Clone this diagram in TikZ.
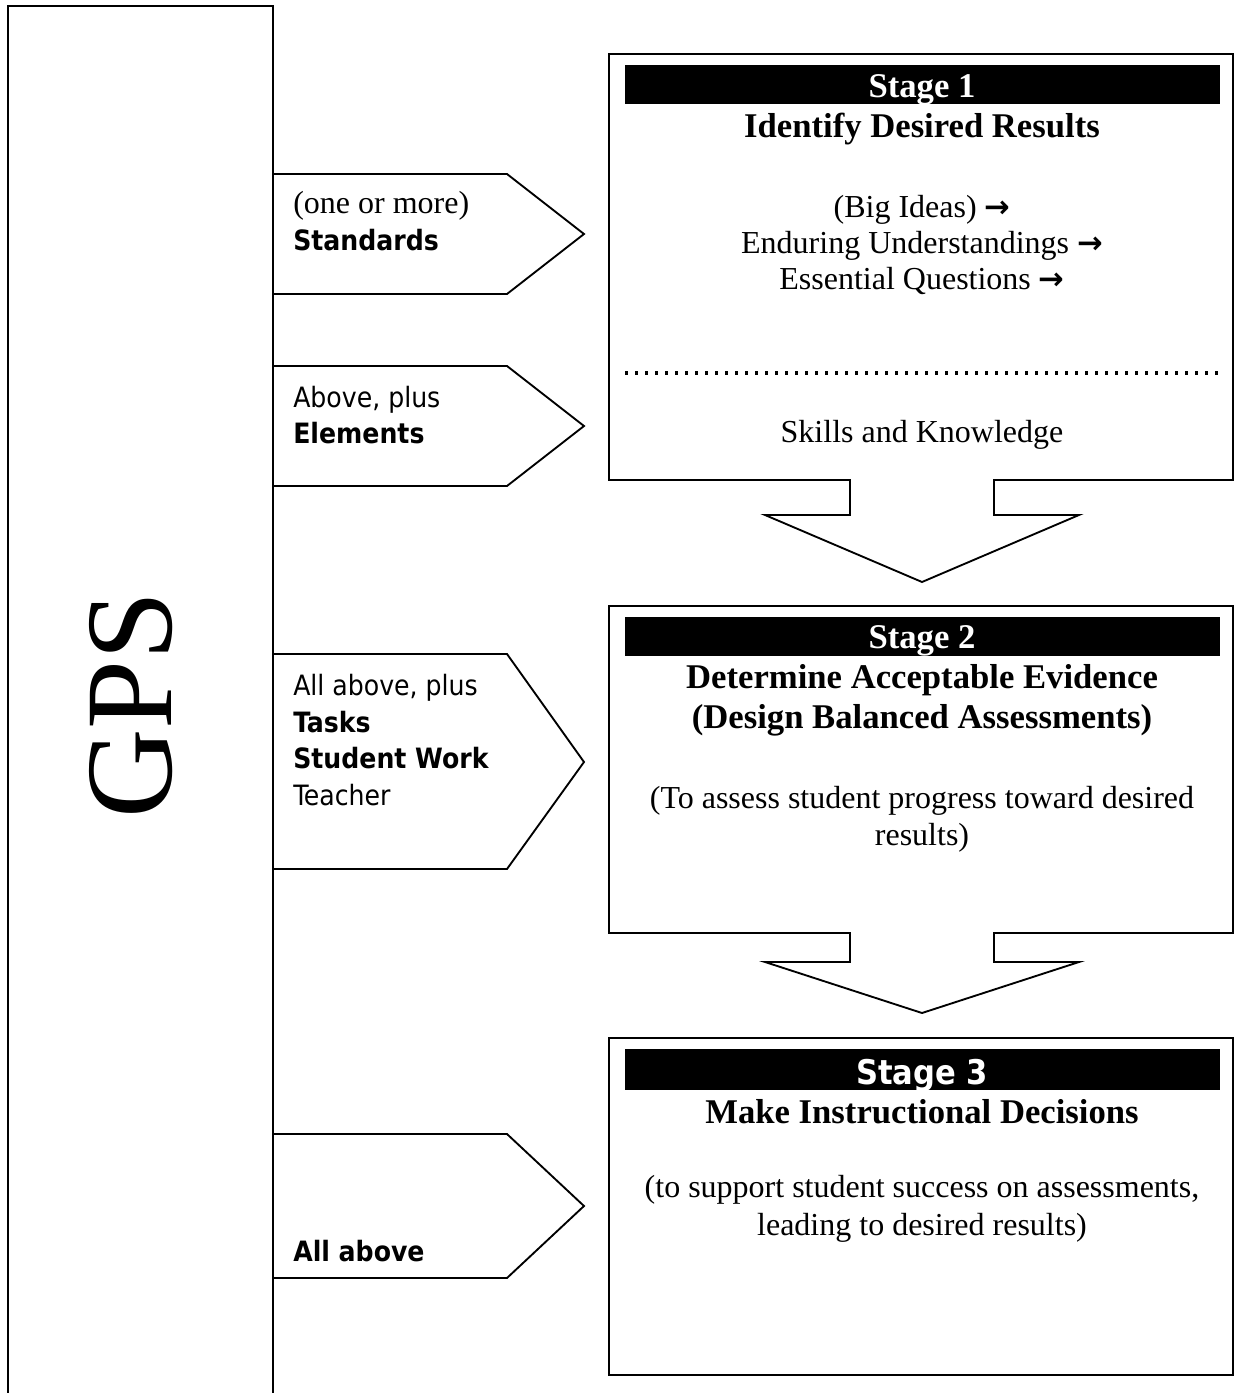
\documentclass[tikz,border=0pt]{standalone}
\usepackage{fontspec}
\setmainfont{Liberation Serif}
\newfontfamily\tahfont{DejaVu Sans Condensed}
\newfontfamily\arrfont{DejaVu Sans}
\newcommand{\rarr}{{\arrfont\bfseries\fontsize{23}{23}\selectfont →}}
\begin{document}
\begin{tikzpicture}[x=0.75pt,y=-0.75pt,
  outline/.style={draw=black, line width=1.4pt, line join=miter, fill=white},
  barfill/.style={fill=black},
  bodytxt/.style={font=\fontsize{24}{27.5}\selectfont, inner sep=0, anchor=base},
  headtxt/.style={font=\bfseries\fontsize{26}{30}\selectfont, inner sep=0, anchor=base},
  bartxt/.style={headtxt, text=white},
  sidetxt/.style={font=\tahfont\fontsize{21}{26}\selectfont, inner sep=0, anchor=base west},
  sidebold/.style={sidetxt, font=\tahfont\bfseries\fontsize{21}{26}\selectfont},
  sideserif/.style={font=\fontsize{24}{27.5}\selectfont, inner sep=0, anchor=base west}
]
\useasboundingbox (0,0) rectangle (1235,1393);
\fill[white] (0,0) rectangle (1235,1393);

% side pentagon arrows
\draw[outline] (273,174) -- (507,174) -- (584,234) -- (507,294) -- (273,294);
\draw[outline] (273,366) -- (507,366) -- (584,426) -- (507,486) -- (273,486);
\draw[outline] (273,654) -- (507,654) -- (584,762) -- (507,869) -- (273,869);
\draw[outline] (273,1134) -- (507,1134) -- (584,1206) -- (507,1278) -- (273,1278);

% GPS column (open at bottom)
\draw[outline, fill=none] (8,1400) -- (8,6) -- (273,6) -- (273,1400);
\node[font=\fontsize{93}{93}\selectfont, rotate=90, anchor=base, inner sep=0] (gps) at (171,705) {GPS};

\node[sideserif] (p1a) at (293,213) {(one or more)};
\node[sidebold] (p1b) at (293,250) {Standards};
\node[sidetxt] (p2a) at (293,407) {Above, plus};
\node[sidebold] (p2b) at (293,443) {Elements};
\node[sidetxt] (p3a) at (293,695) {All above, plus};
\node[sidebold] (p3b) at (293,732) {Tasks};
\node[sidebold] (p3c) at (293,768) {Student Work};
\node[sidetxt] (p3d) at (293,805) {Teacher};
\node[sidebold] (p4a) at (293,1261) {All above};

% Stage 1 box with down arrow
\draw[outline] (609,54) -- (1233,54) -- (1233,480) -- (994,480) -- (994,515) -- (1079,515)
  -- (922,582) -- (765,515) -- (850,515) -- (850,480) -- (609,480) -- cycle;
\fill[barfill] (625,65) rectangle (1220,104);
\node[bartxt] (s1) at (922,97) {Stage 1};
\node[headtxt] (s1h) at (922,137) {Identify Desired Results};
\node[bodytxt] (s1a) at (922,217) {(Big Ideas) \rarr};
\node[bodytxt] (s1b) at (922,253) {Enduring Understandings \rarr};
\node[bodytxt] (s1c) at (922,289) {Essential Questions \rarr};
\draw[line width=2.3pt, dash pattern=on 2.2pt off 5.3pt] (625,373) -- (1220,373);
\node[bodytxt] (s1d) at (922,442) {Skills and Knowledge};

% Stage 2 box with down arrow
\draw[outline] (609,606) -- (1233,606) -- (1233,933) -- (994,933) -- (994,962) -- (1079,962)
  -- (922,1013) -- (765,962) -- (850,962) -- (850,933) -- (609,933) -- cycle;
\fill[barfill] (625,617) rectangle (1220,656);
\node[bartxt] (s2) at (922,648) {Stage 2};
\node[headtxt] (s2h) at (922,688) {Determine Acceptable Evidence};
\node[headtxt] (s2i) at (922,728) {(Design Balanced Assessments)};
\node[bodytxt] (s2a) at (922,808) {(To assess student progress toward desired};
\node[bodytxt] (s2b) at (922,845) {results)};

% Stage 3 box
\draw[outline] (609,1038) rectangle (1233,1375);
\fill[barfill] (625,1049) rectangle (1220,1090);
\node[font=\tahfont\bfseries\fontsize{25.5}{30}\selectfont, text=white, inner sep=0, anchor=base] (s3) at (922,1084) {Stage 3};
\node[headtxt] (s3h) at (922,1123) {Make Instructional Decisions};
\node[bodytxt] (s3a) at (922,1197) {(to support student success on assessments,};
\node[bodytxt] (s3b) at (922,1235) {leading to desired results)};
\end{tikzpicture}
\end{document}
